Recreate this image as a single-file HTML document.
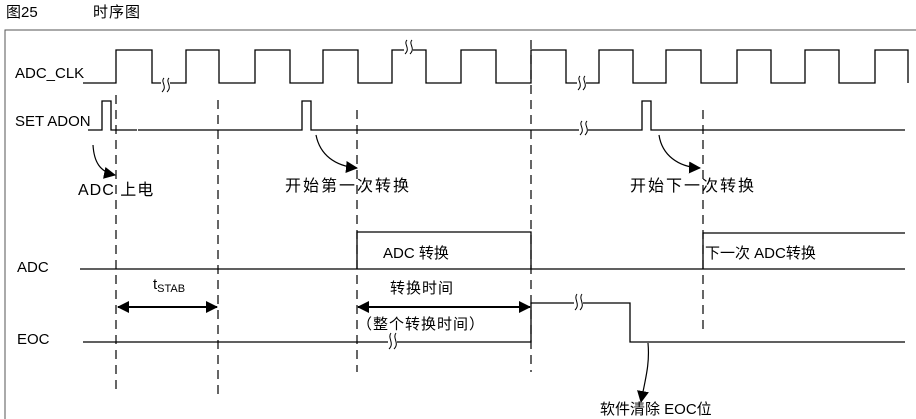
<!DOCTYPE html>
<html><head><meta charset="utf-8"><style>
html,body{margin:0;padding:0;background:#fff;}
svg{display:block;}
text{font-family:"Liberation Sans","Noto Sans CJK SC",sans-serif;fill:#000;}
</style></head><body>
<svg width="916" height="419" viewBox="0 0 916 419" xmlns="http://www.w3.org/2000/svg">
<defs>
<marker id="ah" markerWidth="12" markerHeight="12" refX="11" refY="6" orient="auto" markerUnits="userSpaceOnUse"><path d="M0,0 L12,6 L0,12 Z" fill="#000"/></marker>
<marker id="ah2" markerWidth="12" markerHeight="12" refX="1" refY="6" orient="auto" markerUnits="userSpaceOnUse"><path d="M12,0 L0,6 L12,12 Z" fill="#000"/></marker>
</defs>
<text x="6" y="17" font-size="15">图25</text>
<text x="93" y="17" font-size="15" letter-spacing="1">时序图</text>
<path d="M5,430 V30 H920" fill="none" stroke="#555" stroke-width="1"/>
<g fill="none" stroke="#000" stroke-width="1.3">
<path d="M83,83 H116 V50 H152 V83 H186 V50 H219 V83 H255 V50 H290 V83 H323 V50 H358 V83 H392 V50 H426 V83 H461 V50 H496 V83 H531 V50 H566 V83 H599 V50 H633 V83 H666 V50 H701 V83 H737 V50 H771 V83 H805 V50 H839 V83 H875 V50 H908 V83"/>
<path d="M88,130 H102 V101 H111 V130 H137 M138,130 H302 V101 H311 V130 H642 V101 H651 V130 H905"/>
<path d="M80,269 H905 M357,269 V232 H531 V269 M703,269 V233 H905"/>
<path d="M83,342 H531 V303 H630 V342 H905"/>
</g>
<g fill="#fff" stroke="#000" stroke-width="1">
<rect x="161" y="78" width="9" height="12" stroke="none"/>
<path d="M164,78 c-4,4 4,8 -2,14 M169,78 c-4,4 4,8 -2,14" fill="none"/>
<rect x="404" y="42" width="9" height="13" stroke="none"/>
<path d="M407,40 c-4,4 4,8 -2,14 M412,40 c-4,4 4,8 -2,14" fill="none"/>
<rect x="577" y="76" width="9" height="13" stroke="none"/>
<path d="M580,76 c-4,4 4,8 -2,14 M585,76 c-4,4 4,8 -2,14" fill="none"/>
<rect x="579" y="123" width="9" height="13" stroke="none"/>
<path d="M582,121 c-4,4 4,8 -2,14 M587,121 c-4,4 4,8 -2,14" fill="none"/>
<rect x="388" y="335" width="9" height="14" stroke="none"/>
<path d="M391,333 c-4,5 4,10 -2,16 M396,333 c-4,5 4,10 -2,16" fill="none"/>
<rect x="574" y="296" width="9" height="14" stroke="none"/>
<path d="M577,294 c-4,5 4,10 -2,16 M582,294 c-4,5 4,10 -2,16" fill="none"/>
</g>
<g stroke="#000" stroke-width="1.2" stroke-dasharray="9,6" fill="none">
<path d="M116,95 V395"/>
<path d="M218,100 V395"/>
<path d="M357,110 V372"/>
<path d="M531,40 V372"/>
<path d="M703,110 V330"/>
</g>
<g fill="none" stroke="#000" stroke-width="1.2">
<path d="M93,145 C94,162 100,172 115,175" marker-end="url(#ah)"/>
<path d="M316,135 C320,155 335,166 357,168" marker-end="url(#ah)"/>
<path d="M659,135 C662,155 678,167 700,168" marker-end="url(#ah)"/>
<path d="M648,343 C650,365 645,380 641,402" marker-end="url(#ah)"/>
<path d="M118,307 H217" stroke-width="2" marker-start="url(#ah2)" marker-end="url(#ah)"/>
<path d="M358,307 H530" stroke-width="2" marker-start="url(#ah2)" marker-end="url(#ah)"/>
</g>
<g font-size="15">
<text x="15" y="78">ADC_CLK</text>
<text x="15" y="126">SET ADON</text>
<text x="17" y="272">ADC</text>
<text x="17" y="344">EOC</text>
<text x="78" y="195" font-size="16" letter-spacing="1">ADC 上电</text>
<text x="285" y="191" font-size="16" letter-spacing="2">开始第一次转换</text>
<text x="630" y="191" font-size="16" letter-spacing="2">开始下一次转换</text>
<text x="383" y="258">ADC 转换</text>
<text x="705" y="258">下一次 ADC转换</text>
<text x="153" y="289">t<tspan font-size="11" dy="3">STAB</tspan></text>
<text x="390" y="293" letter-spacing="1">转换时间</text>
<text x="357" y="329" letter-spacing="1">（整个转换时间）</text>
<text x="600" y="414">软件清除 EOC位</text>
</g>
</svg>
</body></html>
